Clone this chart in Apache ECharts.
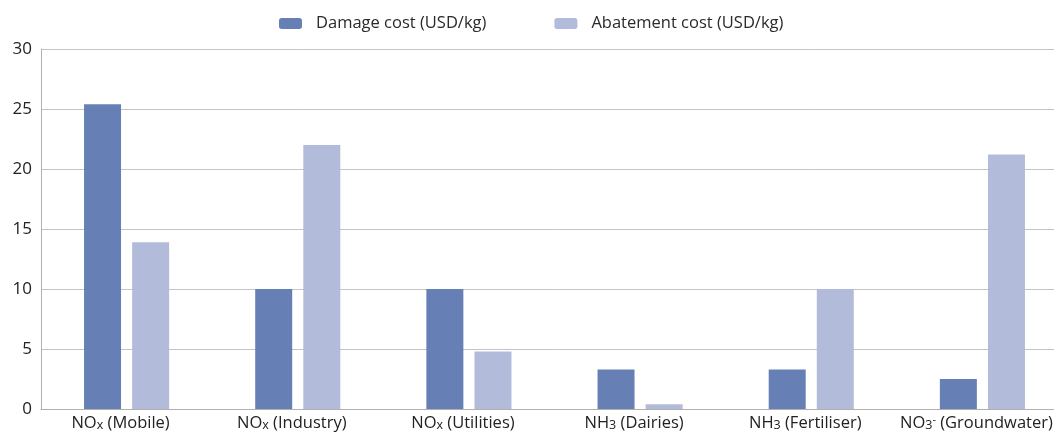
<!DOCTYPE html>
<html lang="en">
<head>
    <meta charset="utf-8"/>
    <title>Damage vs abatement cost</title>
    <script src="https://cdn.jsdelivr.net/npm/echarts@6/dist/echarts.min.js"></script>
    <style>
        html, body { margin: 0; padding: 0; background: #fff; overflow: hidden; }
        /* the original plot runs past the right edge of the picture */
        #chart { width: 1068px; height: 438px; }
    </style>
</head>
<body>
<div id="chart"></div>
<script>
    // categories use rich text for the sub/superscripts
    const categories = [
        'NO{sub|x} (Mobile)',
        'NO{sub|x} (Industry)',
        'NO{sub|x} (Utilities)',
        'NH{sub|3} (Dairies)',
        'NH{sub|3} (Fertiliser)',
        'NO{sub|3}{sup|-} (Groundwater)'
    ];
    const damageCost = [25.4, 10, 10, 3.3, 3.3, 2.5];
    const abatementCost = [13.9, 22.0, 4.8, 0.4, 10, 21.2];
    const yTicks = [0, 5, 10, 15, 20, 25, 30];

    const font = '"Open Sans", "Noto Sans", sans-serif';
    const chart = echarts.init(document.getElementById('chart'));
    const option = {
        animation: false,
        textStyle: { fontFamily: font },
        legend: {
            top: 10,
            left: 274,
            itemWidth: 23,
            itemHeight: 11,
            itemGap: 68,
            textStyle: { fontSize: 16.5, color: '#2a2a2a', fontFamily: font, padding: [0, 0, 0, 9] },
            data: ['Damage cost (USD/kg)', 'Abatement cost (USD/kg)']
        },
        grid: { left: 41, top: 49, right: 0, height: 360, containLabel: false },
        xAxis: {
            type: 'category',
            data: categories,
            axisLine: { lineStyle: { color: '#b0b0b0' } },
            axisTick: { show: false },
            axisLabel: {
                margin: 5,
                interval: 0,
                color: '#222',
                fontSize: 16.5,
                fontFamily: font,
                padding: [0, 12, 0, 0],
                rich: {
                    sub: { fontSize: 12.5, color: '#222', verticalAlign: 'bottom', padding: [5, 0, 0, 0] },
                    sup: { fontSize: 11, color: '#222', verticalAlign: 'top', padding: [0, 0, 6, 0] }
                }
            }
        },
        yAxis: {
            type: 'value',
            min: 0,
            max: 30,
            interval: 5,
            axisLine: { show: true, lineStyle: { color: '#b0b0b0' } },
            axisTick: { show: false },
            axisLabel: {
                margin: 9,
                color: '#222',
                fontSize: 17,
                fontFamily: font,
                formatter: function (v) { return yTicks.indexOf(v) >= 0 ? String(v) : ''; }
            },
            splitLine: { lineStyle: { color: '#c4c4c4' } }
        },
        series: [
            {
                name: 'Damage cost (USD/kg)',
                type: 'bar',
                data: damageCost,
                barWidth: 37,
                barGap: '30%',
                itemStyle: { color: '#6680b6' }
            },
            {
                name: 'Abatement cost (USD/kg)',
                type: 'bar',
                data: abatementCost,
                barWidth: 37,
                barGap: '30%',
                itemStyle: { color: '#b3bbdb' }
            }
        ]
    };
    chart.setOption(option);
</script>
</body>
</html>
